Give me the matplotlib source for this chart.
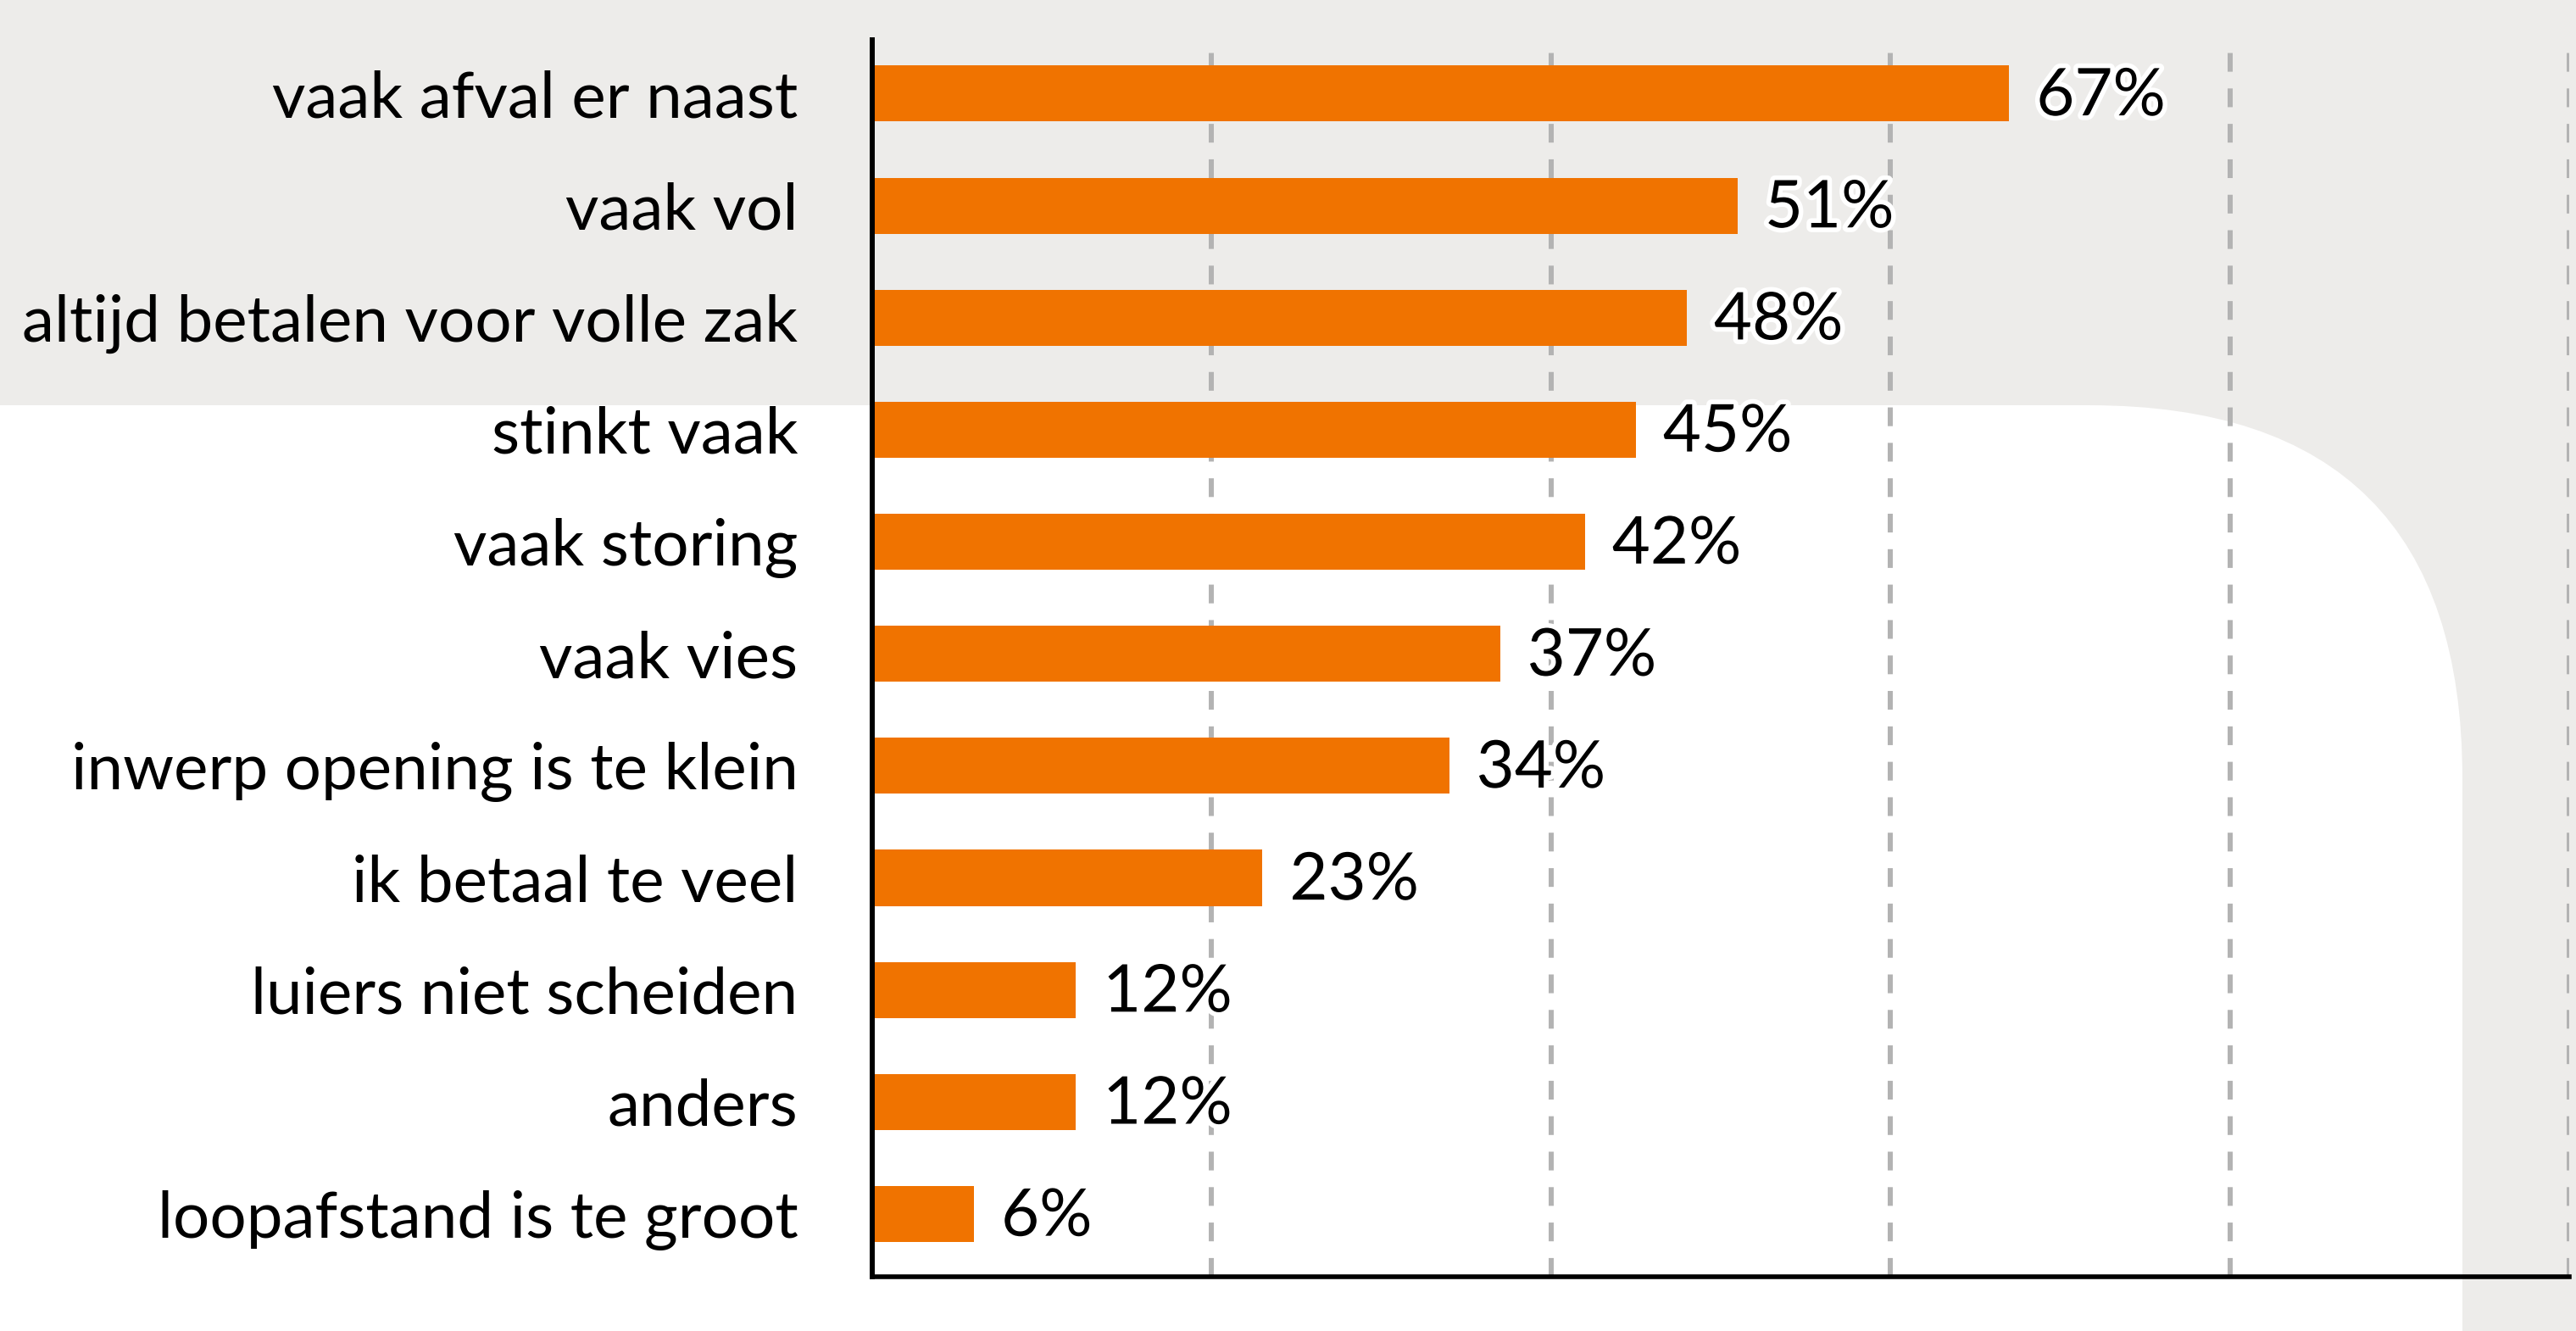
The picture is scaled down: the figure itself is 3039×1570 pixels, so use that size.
import matplotlib
matplotlib.use("Agg")
import matplotlib.pyplot as plt
import matplotlib.patheffects as pe
from matplotlib.patches import FancyBboxPatch
from matplotlib.transforms import IdentityTransform, ScaledTranslation

# data
labels = [
    "vaak afval er naast",
    "vaak vol",
    "altijd betalen voor volle zak",
    "stinkt vaak",
    "vaak storing",
    "vaak vies",
    "inwerp opening is te klein",
    "ik betaal te veel",
    "luiers niet scheiden",
    "anders",
    "loopafstand is te groot",
]
values = [67, 51, 48, 45, 42, 37, 34, 23, 12, 12, 6]
grid_ticks = [20, 40, 60, 80, 100]

W, H, DPI = 3039, 1570, 100
plt.rcParams['font.family'] = ['Lato', 'DejaVu Sans']

fig = plt.figure(figsize=(W / DPI, H / DPI), dpi=DPI, facecolor='#edecea')

# white rounded panel behind the chart
panel = FancyBboxPatch((-1000, -1000), 2905 + 1000, (H - 478) + 1000,
                       boxstyle="round,pad=0,rounding_size=440",
                       transform=IdentityTransform(),
                       facecolor='white', edgecolor='none', zorder=-1)
fig.add_artist(panel)

ax = fig.add_axes([1029 / W, 64 / H, (3031 - 1029) / W, (1506 - 47) / H])
ax.patch.set_alpha(0)

ypos = list(range(len(labels)))
ax.barh(ypos, values, height=0.5, color='#f07300', zorder=2)

for y, v in zip(ypos, values):
    ax.annotate(f"{v}%", (v, y), xytext=(23, -3), textcoords='offset points',
                va='center', ha='left', fontsize=56, color='black',
                path_effects=[pe.withStroke(linewidth=8, foreground='white')])

ax.set_xlim(0, 100)
ax.set_ylim(len(labels) - 1 + 0.56, -0.48)
ax.set_yticks(ypos)
ax.set_yticklabels(labels, fontsize=55)
shift = ScaledTranslation(0, -3 / 72, fig.dpi_scale_trans)
for t in ax.get_yticklabels():
    t.set_transform(t.get_transform() + shift)
ax.set_xticks(grid_ticks)
ax.tick_params(axis='x', length=0, labelbottom=False)
ax.tick_params(axis='y', length=0, pad=63)

ax.set_axisbelow(True)
ax.grid(axis='x', color='#b3b3b3', linewidth=4.3, linestyle=(0, (3.7, 3.3)))

for s in ['top', 'right']:
    ax.spines[s].set_visible(False)
ax.spines['left'].set_linewidth(4.3)
ax.spines['bottom'].set_linewidth(4)
ax.spines['left'].set_color('black')
ax.spines['bottom'].set_color('black')

fig.savefig("out.png", dpi=DPI, facecolor=fig.get_facecolor())
